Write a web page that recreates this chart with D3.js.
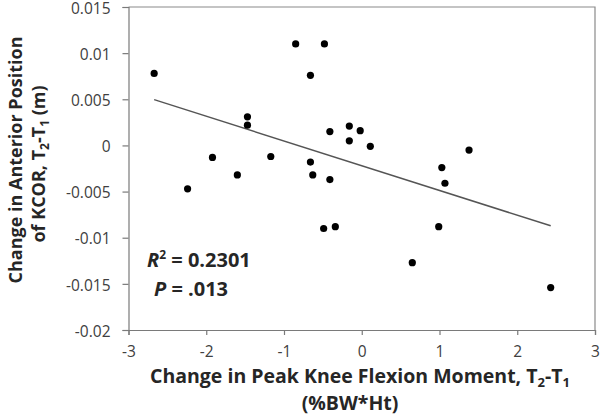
<!DOCTYPE html>
<html lang="en">
<head>
<meta charset="utf-8">
<title>KCOR vs knee flexion moment</title>
<script src="https://d3js.org/d3.v7.min.js"></script>
<style>
  body { margin: 0; background: #fff; }
  svg { display: block; font-family: 'Open Sans', sans-serif; }
  .tick text { fill: #404040; font-size: 15.5px; }
  .axis-title { font-weight: bold; fill: #262626; font-size: 18px; }
  .axis-title.wide { font-size: 19.5px; }
  .stat { font-weight: bold; fill: #262626; font-size: 20px; }
</style>
</head>
<body>
<script>
// change in peak knee flexion moment (x) and change in anterior KCOR position (y)
const kneeMoment = [-2.67, -0.85, -1.47, -1.47, -1.92, -1.17, -1.60, -2.24,
                    -0.48, -0.66, -0.41, -0.16, -0.02, -0.16, 0.11, 1.38,
                    -0.66, -0.63, -0.41, 1.03, 1.07,
                    -0.49, -0.34, 0.99, 0.65, 2.43];
const kcorShift = [0.0078, 0.0110, 0.0031, 0.0022, -0.0013, -0.0012, -0.0032, -0.0047,
                   0.0110, 0.0076, 0.0015, 0.0021, 0.0016, 0.0005, -0.0001, -0.0005,
                   -0.0018, -0.0032, -0.0037, -0.0024, -0.0041,
                   -0.0090, -0.0088, -0.0088, -0.0127, -0.0154];
// fitted line end points as drawn
const trendX = [-2.67, 2.43];
const trendY = [0.00496, -0.00871];

const xTicks = [-3, -2, -1, 0, 1, 2, 3];
const yTicks = [-0.02, -0.015, -0.01, -0.005, 0, 0.005, 0.01, 0.015];

const w = 600, h = 416;
const svg = d3.select("body").append("svg").attr("width", w).attr("height", h);

const x = d3.scaleLinear().domain([-3, 3]).range([128.5, 595]);
const y = d3.scaleLinear().domain([-0.02, 0.015]).range([330, 7]);

// plain hyphen like the original, not the unicode minus
const fmt = d => String(+d.toFixed(3));

// frame (top and right)
svg.append("path")
  .attr("d", `M${x(-3)},${y(0.015)}H${x(3)}V${y(-0.02)}`)
  .attr("fill", "none").attr("stroke", "#8a8a8a").attr("stroke-width", 1.2);

const xAxis = svg.append("g")
  .attr("transform", `translate(0,${y(-0.02)})`)
  .call(d3.axisBottom(x).tickValues(xTicks).tickSize(5).tickPadding(11).tickFormat(fmt));

const yAxis = svg.append("g")
  .attr("transform", `translate(${x(-3)},0)`)
  .call(d3.axisLeft(y).tickValues(yTicks).tickSize(6).tickPadding(12).tickFormat(fmt));
yAxis.selectAll("text").attr("dy", "0.4em");

[xAxis, yAxis].forEach(a => {
  a.selectAll(".domain, .tick line").attr("stroke", "#7a7a7a").attr("stroke-width", 1.2);
  a.selectAll("text").attr("font-family", "'Open Sans', sans-serif");
});

// trend line
svg.append("line")
  .attr("x1", x(trendX[0])).attr("y1", y(trendY[0]))
  .attr("x2", x(trendX[1])).attr("y2", y(trendY[1]))
  .attr("stroke", "#555").attr("stroke-width", 1.5);

// points
svg.selectAll("circle")
  .data(kneeMoment)
  .enter()
  .append("circle")
  .attr("cx", d => x(d))
  .attr("cy", (d, i) => y(kcorShift[i]))
  .attr("r", 3.6)
  .attr("fill", "#000");

// stats text
const r2 = svg.append("text").attr("class", "stat").attr("x", 147).attr("y", 267);
r2.append("tspan").attr("font-style", "italic").text("R");
r2.append("tspan").style("font-size", "12px").attr("dy", -8).text("2");
r2.append("tspan").attr("dy", 8).text(" = 0.2301");
const p = svg.append("text").attr("class", "stat").attr("x", 154).attr("y", 296);
p.append("tspan").attr("font-style", "italic").text("P");
p.append("tspan").text(" = .013");

// x title
const xt = svg.append("text").attr("class", "axis-title wide").attr("text-anchor", "middle")
  .attr("x", 360).attr("y", 383);
xt.append("tspan").text("Change in Peak Knee Flexion Moment, T");
xt.append("tspan").style("font-size", "13px").attr("dy", 4).text("2");
xt.append("tspan").attr("dy", -4).text("-T");
xt.append("tspan").style("font-size", "13px").attr("dy", 4).text("1");
svg.append("text").attr("class", "axis-title wide").attr("text-anchor", "middle")
  .attr("x", 350).attr("y", 410).text("(%BW*Ht)");

// y title
const yt = svg.append("g").attr("transform", "translate(22,160) rotate(-90)");
yt.append("text").attr("class", "axis-title").attr("text-anchor", "middle")
  .text("Change in Anterior Position");
const yt2 = yt.append("text").attr("class", "axis-title").attr("text-anchor", "middle")
  .attr("x", -4).attr("y", 23);
yt2.append("tspan").text("of KCOR, T");
yt2.append("tspan").style("font-size", "12px").attr("dy", 4).text("2");
yt2.append("tspan").attr("dy", -4).text("-T");
yt2.append("tspan").style("font-size", "12px").attr("dy", 4).text("1");
yt2.append("tspan").attr("dy", -4).text(" (m)");
</script>
</body>
</html>
